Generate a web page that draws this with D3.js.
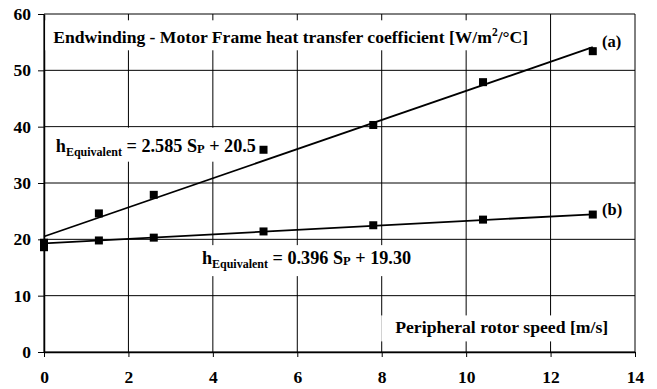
<!DOCTYPE html>
<html>
<head>
<meta charset="utf-8">
<script src="https://cdn.jsdelivr.net/npm/d3@7"></script>
<style>
  html, body { margin: 0; padding: 0; background: #fff; }
  svg { display: block; }
  svg text { font-family: 'Liberation Serif', 'Times New Roman', Times, serif; font-weight: 700; }
</style>
</head>
<body>
<figure id="chart" style="margin:0"></figure>
<script>
// measured values
const speeds = [0, 1.3, 2.6, 5.2, 7.8, 10.4, 13];
const seriesA = [18.6, 24.6, 27.9, 35.9, 40.3, 47.9, 53.4];
const seriesB = [19.4, 19.8, 20.3, 21.4, 22.5, 23.5, 24.4];
// fitted lines: [slope, intercept]
const fitA = [2.585, 20.5];
const fitB = [0.396, 19.30];
const xTicks = [0, 2, 4, 6, 8, 10, 12, 14];
const yTicks = [0, 10, 20, 30, 40, 50, 60];

const width = 657;
const height = 389;
const margin = {top: 14, right: 22, bottom: 37, left: 44};

const svg = d3.select('figure#chart')
  .append('svg')
  .attr('width', width)
  .attr('height', height);

const x = d3.scaleLinear().domain([0, 14]).range([margin.left, width - margin.right]);
const y = d3.scaleLinear().domain([0, 60]).range([height - margin.bottom, margin.top]);

// grid
const grid = svg.append('g').attr('stroke', '#000').attr('stroke-width', 1);
grid.selectAll('line.v')
  .data(xTicks)
  .join('line')
  .attr('class', 'v')
  .attr('x1', d => x(d)).attr('x2', d => x(d))
  .attr('y1', y(0)).attr('y2', y(60));
grid.selectAll('line.h')
  .data(yTicks)
  .join('line')
  .attr('class', 'h')
  .attr('x1', x(0)).attr('x2', x(14))
  .attr('y1', d => y(d)).attr('y2', d => y(d));

// axes
svg.append('g')
  .attr('transform', `translate(0,${y(0)})`)
  .call(d3.axisBottom(x).tickValues(xTicks).tickSize(5).tickSizeOuter(0).tickPadding(14))
  .call(g => g.select('.domain').attr('stroke', '#000').attr('stroke-width', 1.5))
  .call(g => g.selectAll('.tick text').style('font-size', '17.5px'));

svg.append('g')
  .attr('transform', `translate(${x(0)},0)`)
  .call(d3.axisLeft(y).tickValues(yTicks).tickSize(6).tickSizeOuter(0).tickPadding(7))
  .call(g => g.select('.domain').attr('stroke', '#000').attr('stroke-width', 1.5))
  .call(g => g.selectAll('.tick text').style('font-size', '17.5px'));

// annotations with white backgrounds
const boxes = svg.append('g');
const labels = svg.append('g').attr('fill', '#000');

function boxed(textSel, pad) {
  const b = textSel.node().getBBox();
  boxes.append('rect')
    .attr('x', b.x - pad[3]).attr('y', b.y - pad[0])
    .attr('width', b.width + pad[1] + pad[3])
    .attr('height', b.height + pad[0] + pad[2])
    .attr('fill', '#fff');
}

const title = labels.append('text')
  .attr('x', x(0.22)).attr('y', y(54.8))
  .style('font-size', '17.6px')
  .text('Endwinding - Motor Frame heat transfer coefficient [W/m');
title.append('tspan').style('font-size', '11.5px').attr('dy', -7).text('2');
title.append('tspan').attr('dy', 7).text('/°C]');
boxed(title, [6, 8, 3, 8]);

function equation(xv, yv, fit, digits) {
  const t = labels.append('text')
    .attr('x', x(xv)).attr('y', y(yv))
    .style('font-size', '18.2px');
  t.append('tspan').text('h');
  t.append('tspan').style('font-size', '12px').attr('dy', 4).text('Equivalent');
  t.append('tspan').attr('dy', -4).text(` = ${fit[0]} S`);
  t.append('tspan').style('font-size', '12.5px').attr('dy', 1).text('P');
  t.append('tspan').attr('dy', -1).text(` + ${fit[1].toFixed(digits)}`);
  return t;
}
boxed(equation(0.28, 35.56, fitA, 1), [8, 4, 3, 6]);
boxed(equation(3.74, 15.6, fitB, 2), [3, 6, 5, 6]);

const xLabel = labels.append('text')
  .attr('x', x(8.32)).attr('y', y(3.3))
  .style('font-size', '17.7px')
  .text('Peripheral rotor speed [m/s]');
boxed(xLabel, [2, 12, 4, 14]);

labels.append('text').attr('x', x(13.22)).attr('y', y(54.2)).style('font-size', '16.5px').text('(a)');
labels.append('text').attr('x', x(13.22)).attr('y', y(24.4)).style('font-size', '16.5px').text('(b)');

// fitted lines
const line = d3.line().x(d => x(d[0])).y(d => y(d[1]));
[fitA, fitB].forEach(f => {
  svg.append('path')
    .attr('fill', 'none')
    .attr('stroke', '#000')
    .attr('stroke-width', 1.8)
    .attr('d', line([0, 13].map(s => [s, f[0] * s + f[1]])));
});

// markers
const size = 8;
[seriesA, seriesB].forEach(vals => {
  svg.append('g')
    .selectAll('rect')
    .data(vals.map((v, i) => [speeds[i], v]))
    .join('rect')
    .attr('x', d => x(d[0]) - size / 2)
    .attr('y', d => y(d[1]) - size / 2)
    .attr('width', size)
    .attr('height', size)
    .attr('fill', '#000');
});
</script>
</body>
</html>
